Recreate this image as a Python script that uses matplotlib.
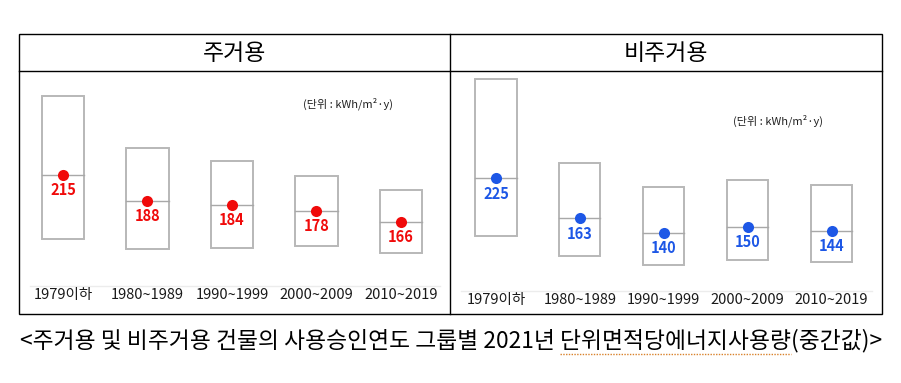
import matplotlib
matplotlib.use("Agg")
import matplotlib.pyplot as plt
from matplotlib.patches import Rectangle
from matplotlib.lines import Line2D
from matplotlib.transforms import blended_transform_factory

plt.rcParams['font.family'] = ['Noto Sans CJK KR', 'DejaVu Sans']

# data (median energy use per unit area, kWh/m2·y)
categories = ["1979이하", "1980~1989", "1990~1999", "2000~2009", "2010~2019"]
res_median = [215, 188, 184, 178, 166]
res_q1 = [148, 138, 139, 141, 134]
res_q3 = [297, 243, 230, 214, 199]
nonres_median = [225, 163, 140, 150, 144]
nonres_q1 = [135, 104, 91, 99, 95]
nonres_q3 = [379, 248, 212, 223, 214]

titles = ["주거용", "비주거용"]
unit_text = "(단위 : kWh/m²·y)"
cap_head = "<주거용 및 비주거용 건물의 사용승인연도 그룹별 2021년 "
cap_mark = "단위면적당에너지사용량"
cap_tail = "(중간값)>"

W, H = 901, 383
fig = plt.figure(figsize=(W / 100, H / 100), dpi=100)


def fx(x):
    return x / W


def fy(y):
    return 1 - y / H


# panel frames
fig.add_artist(Rectangle((fx(19), fy(314)), fx(882 - 19), (314 - 34) / H,
                         transform=fig.transFigure, fill=False, edgecolor='black', lw=1.0))
fig.add_artist(Line2D([fx(450), fx(450)], [fy(34), fy(314)], transform=fig.transFigure, color='black', lw=1.0))
fig.add_artist(Line2D([fx(19), fx(882)], [fy(71), fy(71)], transform=fig.transFigure, color='black', lw=1.0))

fig.text(fx(235), fy(53), titles[0], ha='center', va='center', fontsize=16.5, fontweight='medium')
fig.text(fx(666), fy(53), titles[1], ha='center', va='center', fontsize=16.5, fontweight='medium')

panels = [
    dict(left=19, width=431, xlim=(-0.52, 4.58), ylim=(70.2, 323.3), med=res_median, q1=res_q1, q3=res_q3,
         color='#f00a0a', unit=(348, 104), base=0.115, lab=0.078, bw=0.5),
    dict(left=450, width=432, xlim=(-0.548, 4.60), ylim=(14.6, 391.4), med=nonres_median, q1=nonres_q1,
         q3=nonres_q3, color='#1d57e6', unit=(778, 121), base=0.095, lab=0.058, bw=0.49),
]

for p in panels:
    ax = fig.add_axes([fx(p['left']), fy(314), fx(p['width']), (314 - 71) / H])
    ax.set_xlim(*p['xlim'])
    ax.set_ylim(*p['ylim'])
    ax.axis('off')
    xs = list(range(len(categories)))
    heights = [t - b for t, b in zip(p['q3'], p['q1'])]
    ax.bar(xs, heights, bottom=p['q1'], width=p['bw'], facecolor='white',
           edgecolor='#b8b8b8', linewidth=1.4, zorder=2)
    for x, m in zip(xs, p['med']):
        ax.plot([x - p['bw'] / 2, x + p['bw'] / 2], [m, m], color='#a8a8a8', lw=1.0, zorder=3)
        ax.plot(x, m, 'o', color=p['color'], ms=8, mec='none', zorder=4)
        ax.annotate(str(m), (x, m), xytext=(0, -11), textcoords='offset points',
                    ha='center', va='center', fontsize=10.5, fontweight='bold', color=p['color'])
    tr = blended_transform_factory(ax.transData, ax.transAxes)
    ax.plot([0.025, 0.977], [p['base'], p['base']], transform=ax.transAxes, color='#ececec', lw=1.0)
    for x, c in zip(xs, categories):
        ax.text(x, p['lab'], c, transform=tr, ha='center', va='center', fontsize=10.5, color='#1a1a1a')
    fig.text(fx(p['unit'][0]), fy(p['unit'][1]), unit_text, ha='center', va='center', fontsize=8, color='#222222')

# caption, with the dotted spell-check underline under one part
cap = fig.text(fx(451), fy(341), cap_head + cap_mark + cap_tail, ha='center', va='center',
               fontsize=16.4, color='black')
r = fig.canvas.get_renderer()
bb = cap.get_window_extent(r)
tmp = fig.text(0, 0, cap_head, fontsize=16.4)
w_head = tmp.get_window_extent(r).width
tmp.set_text(cap_head + cap_mark)
w_mark = tmp.get_window_extent(r).width
tmp.remove()
fig.add_artist(Line2D([(bb.x0 + w_head) / W, (bb.x0 + w_mark) / W], [fy(354), fy(354)],
                      transform=fig.transFigure, color='#d9822b', lw=1.0, ls=(0, (1, 1))))

fig.savefig("out.png", dpi=100)
